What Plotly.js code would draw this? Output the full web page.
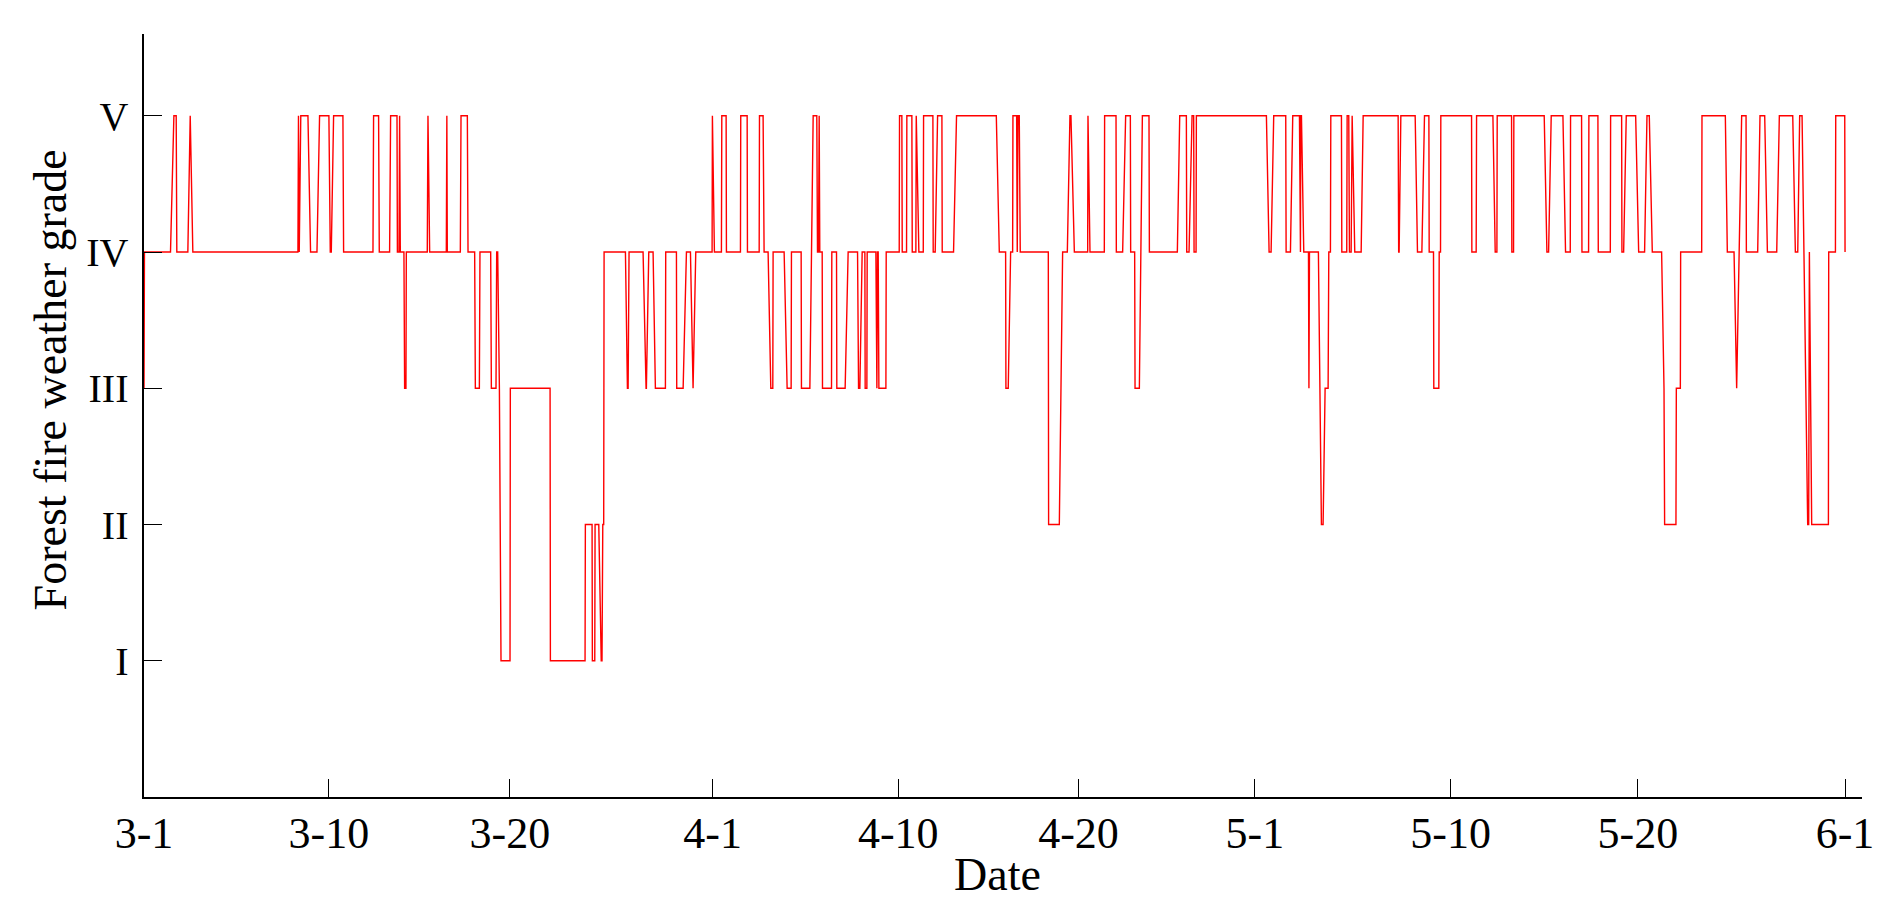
<!DOCTYPE html>
<html>
<head>
<meta charset="utf-8">
<script src="https://cdn.plot.ly/plotly-3.0.1.min.js"></script>
<style>
  html, body { margin: 0; padding: 0; background: #ffffff; }
  #chart { width: 1888px; height: 917px; }
</style>
</head>
<body>
<div id="chart"></div>
<script>
// Hours elapsed since 3-1 00:00 at each vertex of the grade trace
const hourIndex = [
  0, 0.6, 34.4, 38.8, 41.8, 42.6, 56.9, 60.0, 63.4, 199.8,
  200.5, 201.5, 203.5, 212.8, 216.2, 224.5, 227.9, 240.0, 241.8, 243.1,
  246.1, 258.2, 259.1, 297.2, 298.0, 304.5, 305.4, 318.8, 320.1, 328.4,
  328.9, 331.0, 331.8, 332.7, 337.4, 338.3, 340.0, 340.5, 367.7, 368.6,
  370.8, 392.4, 393.1, 393.7, 410.6, 411.5, 419.7, 420.6, 429.2, 430.1,
  435.3, 436.1, 450.0, 450.9, 456.9, 457.8, 459.1, 461.3, 463.4, 475.1,
  475.5, 527.1, 527.5, 572.5, 572.9, 581.6, 582.0, 585.1, 585.5, 590.3,
  593.5, 594.5, 595.5, 596.7, 597.2, 624.9, 627.5, 628.4, 629.6, 647.8,
  651.7, 652.1, 655.2, 660.8, 663.8, 676.8, 677.2, 691.1, 691.5, 699.8,
  704.1, 709.3, 712.7, 716.2, 737.4, 737.8, 740.4, 749.5, 750.0, 755.6,
  756.0, 774.2, 774.6, 782.9, 783.3, 798.5, 798.9, 803.6, 804.9, 810.1,
  813.6, 816.2, 816.6, 830.9, 834.8, 840.0, 840.4, 853.0, 853.4, 864.3,
  868.6, 873.3, 874.2, 875.5, 876.4, 877.2, 880.3, 880.7, 892.4, 892.8,
  898.9, 899.3, 910.1, 914.0, 926.2, 927.5, 929.2, 932.2, 935.7, 936.1,
  938.3, 938.7, 950.0, 950.4, 951.3, 952.1, 953.0, 953.9, 963.0, 963.4,
  980.3, 980.7, 983.7, 984.2, 989.8, 990.2, 996.7, 997.2, 1001.9, 1002.4,
  1005.8, 1011.5, 1011.9, 1024.0, 1024.4, 1027.0, 1030.1, 1035.7, 1036.1, 1050.8,
  1054.7, 1106.3, 1110.2, 1118.4, 1118.8, 1121.8, 1124.9, 1127.5, 1127.9, 1132.7,
  1133.5, 1134.4, 1136.1, 1137.4, 1173.8, 1174.2, 1188.1, 1192.4, 1198.5, 1201.9,
  1203.2, 1207.6, 1224.9, 1225.3, 1227.9, 1246.5, 1246.9, 1261.7, 1262.1, 1270.3,
  1274.2, 1280.3, 1280.7, 1285.9, 1286.4, 1292.0, 1295.9, 1304.5, 1305.0, 1341.3,
  1344.4, 1353.0, 1353.5, 1356.5, 1360.4, 1362.5, 1363.0, 1365.6, 1366.0, 1456.9,
  1460.4, 1463.0, 1466.4, 1482.0, 1482.5, 1488.1, 1491.1, 1499.8, 1500.2, 1501.1,
  1501.5, 1502.4, 1505.4, 1511.5, 1512.1, 1512.8, 1524.4, 1528.3, 1530.5, 1533.1,
  1537.0, 1537.9, 1540.0, 1540.5, 1554.3, 1554.8, 1561.2, 1561.7, 1563.8, 1564.7,
  1566.9, 1567.3, 1568.2, 1571.6, 1579.9, 1582.5, 1627.9, 1628.6, 1629.2, 1631.4,
  1650.0, 1653.0, 1658.7, 1662.1, 1667.8, 1668.2, 1673.8, 1674.2, 1680.7, 1681.2,
  1682.9, 1683.3, 1723.2, 1723.6, 1729.2, 1729.7, 1750.9, 1753.9, 1756.1, 1756.5,
  1775.1, 1775.5, 1777.7, 1778.1, 1817.5, 1821.0, 1823.2, 1826.6, 1841.8, 1845.2,
  1851.3, 1851.7, 1866.0, 1866.5, 1875.1, 1875.5, 1887.2, 1887.7, 1903.3, 1903.7,
  1918.0, 1918.4, 1920.6, 1924.0, 1936.2, 1940.1, 1947.8, 1950.9, 1953.9, 1957.8,
  1969.9, 1973.0, 1973.8, 1988.5, 1989.0, 1994.2, 1994.6, 2021.9, 2022.3, 2052.6,
  2055.2, 2063.9, 2067.3, 2073.8, 2079.5, 2079.9, 2094.6, 2097.6, 2103.7, 2107.2,
  2119.3, 2122.7, 2140.1, 2143.5, 2146.6, 2149.1, 2152.2, 2159.5, 2160.8, 2161.7,
  2164.7, 2186.4, 2186.8, 2195.5, 2195.9, 2207.6, 2208.0
];

// Forest fire weather grade (1 = I ... 5 = V) at each vertex
const grade = [
  3, 4, 4, 5, 5, 4, 4, 5, 4, 4,
  5, 4, 5, 5, 4, 4, 5, 5, 4, 4,
  5, 5, 4, 4, 5, 5, 4, 4, 5, 5,
  4, 4, 5, 4, 4, 3, 3, 4, 4, 5,
  4, 4, 5, 4, 4, 5, 5, 4, 4, 3,
  3, 4, 4, 3, 3, 4, 4, 3, 1, 1,
  3, 3, 1, 1, 2, 2, 1, 1, 2, 2,
  1, 1, 2, 2, 4, 4, 3, 3, 4, 4,
  3, 3, 4, 4, 3, 3, 4, 4, 3, 3,
  4, 4, 3, 4, 4, 5, 4, 4, 5, 5,
  4, 4, 5, 5, 4, 4, 5, 5, 4, 4,
  3, 3, 4, 4, 3, 3, 4, 4, 3, 3,
  5, 5, 4, 4, 5, 4, 4, 3, 3, 4,
  4, 3, 3, 4, 4, 3, 3, 4, 4, 3,
  3, 4, 4, 3, 3, 4, 4, 3, 3, 4,
  4, 5, 5, 4, 4, 5, 5, 4, 4, 5,
  4, 4, 5, 5, 4, 4, 5, 5, 4, 4,
  5, 5, 4, 4, 3, 3, 4, 4, 5, 5,
  4, 5, 5, 4, 4, 2, 2, 4, 4, 5,
  5, 4, 4, 5, 4, 4, 5, 5, 4, 4,
  5, 5, 4, 4, 3, 3, 5, 5, 4, 4,
  5, 5, 4, 4, 5, 5, 4, 4, 5, 5,
  4, 4, 5, 5, 4, 4, 5, 5, 4, 4,
  5, 5, 4, 4, 3, 4, 4, 2, 2, 3,
  3, 4, 4, 5, 5, 4, 4, 5, 5, 4,
  4, 5, 5, 4, 4, 5, 5, 4, 4, 5,
  5, 4, 4, 5, 5, 4, 4, 3, 3, 4,
  4, 5, 5, 4, 4, 5, 5, 4, 4, 5,
  5, 4, 4, 5, 5, 4, 4, 5, 5, 4,
  4, 5, 5, 4, 4, 5, 5, 4, 4, 5,
  5, 4, 4, 5, 5, 4, 4, 5, 5, 4,
  4, 3, 2, 2, 3, 3, 4, 4, 5, 5,
  4, 4, 3, 5, 5, 4, 4, 5, 5, 4,
  4, 5, 5, 4, 4, 5, 5, 2, 2, 4,
  2, 2, 4, 4, 5, 5, 4
];

// Date tick positions (hours since 3-1) and their labels, as placed in the picture
const dateTickPos = [0, 240, 475, 738, 979, 1213, 1442, 1696, 1939, 2208];
const dateTickLabels = ['3-1', '3-10', '3-20', '4-1', '4-10', '4-20', '5-1', '5-10', '5-20', '6-1'];

// Grade tick values and Roman numeral labels
const gradeTickVals = [1, 2, 3, 4, 5];
const gradeTickLabels = ['I', 'II', 'III', 'IV', 'V'];

const xTitle = 'Date';
const yTitle = 'Forest fire weather grade';

const serif = 'Liberation Serif, Times New Roman, serif';

const trace = {
  x: hourIndex,
  y: grade,
  type: 'scatter',
  mode: 'lines',
  line: { color: '#ff0000', width: 1.4, shape: 'linear' },
  hoverinfo: 'skip'
};

const layout = {
  width: 1888,
  height: 917,
  margin: { l: 144, r: 26, t: 34, b: 120, pad: 0 },
  paper_bgcolor: '#ffffff',
  plot_bgcolor: '#ffffff',
  showlegend: false,
  font: { family: serif, color: '#000000', size: 44 },
  xaxis: {
    range: [0, 2230],
    tickmode: 'array',
    tickvals: dateTickPos,
    ticktext: dateTickLabels,
    ticks: 'inside',
    ticklen: 18,
    tickwidth: 1,
    tickcolor: '#000000',
    showline: true,
    linecolor: '#000000',
    linewidth: 2,
    showgrid: false,
    zeroline: false,
    tickfont: { family: serif, size: 44, color: '#000000' },
    ticklabelstandoff: -4,
    automargin: false,
    fixedrange: true
  },
  yaxis: {
    range: [0, 5.6],
    tickmode: 'array',
    tickvals: gradeTickVals,
    ticktext: gradeTickLabels,
    ticks: 'inside',
    ticklen: 18,
    tickwidth: 1,
    tickcolor: '#000000',
    showline: true,
    linecolor: '#000000',
    linewidth: 2.5,
    showgrid: false,
    zeroline: false,
    tickfont: { family: serif, size: 40, color: '#000000' },
    ticklabelstandoff: 5,
    automargin: false,
    fixedrange: true
  },
  annotations: [
    {
      text: xTitle, xref: 'paper', yref: 'paper',
      x: 0.497, y: -0.102, xanchor: 'center', yanchor: 'middle',
      showarrow: false, font: { family: serif, size: 46, color: '#000000' }
    },
    {
      text: yTitle, xref: 'paper', yref: 'paper', textangle: -90,
      x: -0.0545, y: 0.5465, xanchor: 'center', yanchor: 'middle',
      showarrow: false, font: { family: serif, size: 46, color: '#000000' }
    }
  ]
};

Plotly.newPlot('chart', [trace], layout, { displayModeBar: false, staticPlot: true });
</script>
</body>
</html>
